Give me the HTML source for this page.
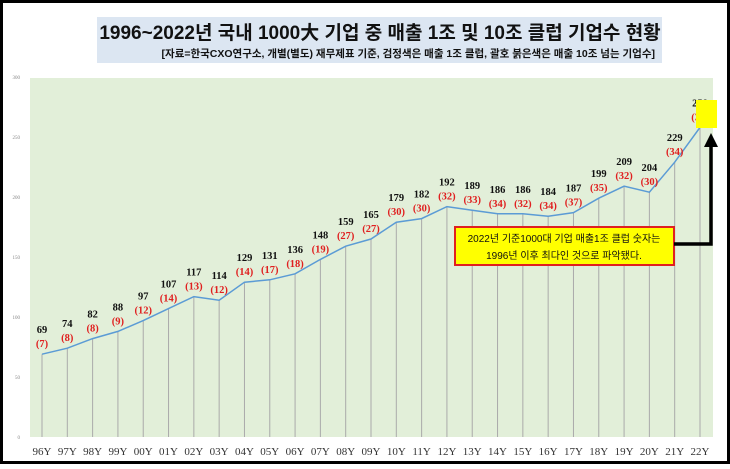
<!DOCTYPE html>
<html><head><meta charset="utf-8"><style>
body{margin:0;background:#fff}
svg text{font-family:"Liberation Serif","Noto Serif CJK SC",serif}
.k{font-family:"Liberation Sans","Noto Sans CJK KR",sans-serif}
</style></head><body>
<svg width="730" height="464" viewBox="0 0 730 464" xmlns="http://www.w3.org/2000/svg">
<rect x="1.5" y="1.5" width="727" height="461" fill="#fff" stroke="#000" stroke-width="3"/>
<rect x="97" y="17" width="565" height="46" fill="#dce6f2"/>
<text class="k" x="380" y="39" text-anchor="middle" font-size="19" font-weight="bold" fill="#111">1996~2022년 국내 1000大 기업 중 매출 1조 및 10조 클럽 기업수 현황</text>
<text class="k" x="655" y="57" text-anchor="end" font-size="10.5" font-weight="bold" fill="#111">[자료=한국CXO연구소, 개별(별도) 재무제표 기준, 검정색은 매출 1조 클럽, 괄호 붉은색은 매출 10조 넘는 기업수]</text>
<rect x="30" y="78" width="683" height="359" fill="#e2efd9"/>
<g id="ya"></g><g id="grid"></g>
<polyline id="line" fill="none" stroke="#5b9bd5" stroke-width="1.5"/>
<g id="labels"></g>
<rect x="696" y="100" width="21" height="28" fill="#ffff00"/>
<rect x="455" y="227" width="219" height="38" fill="#ffff00" stroke="#e02020" stroke-width="2"/>
<text class="k" x="564" y="242" text-anchor="middle" font-size="10" fill="#111">2022년 기준1000대 기업 매출1조 클럽 숫자는</text>
<text class="k" x="564" y="259" text-anchor="middle" font-size="10" fill="#111">1996년 이후 최다인 것으로 파악됐다.</text>
<polyline points="674,244 711,244 711,145" fill="none" stroke="#000" stroke-width="3.5"/>
<polygon points="704,147 718,147 711,133" fill="#000"/>
</svg>
<script>
const categories=["96Y","97Y","98Y","99Y","00Y","01Y","02Y","03Y","04Y","05Y","06Y","07Y","08Y","09Y","10Y","11Y","12Y","13Y","14Y","15Y","16Y","17Y","18Y","19Y","20Y","21Y","22Y"];
const trillionClub=[69,74,82,88,97,107,117,114,129,131,136,148,159,165,179,182,192,189,186,186,184,187,199,209,204,229,258];
const tenTrillionClub=[7,8,8,9,12,14,13,12,14,17,18,19,27,27,30,30,32,33,34,32,34,37,35,32,30,34,38];
const yTicks=[0,50,100,150,200,250,300];
const NS="http://www.w3.org/2000/svg";
const x=i=>42+i*(700-42)/(categories.length-1);
const y=v=>437-v*(437-77)/300;
function mk(t,a,p){const e=document.createElementNS(NS,t);for(const k in a)e.setAttribute(k,a[k]);p.appendChild(e);return e;}
const ya=document.getElementById('ya'),grid=document.getElementById('grid'),lab=document.getElementById('labels');
yTicks.forEach(v=>{const t=mk('text',{x:20,y:y(v)+2,'text-anchor':'end','font-size':5,fill:'#888'},ya);t.textContent=v;

});
const pts=[];
categories.forEach((c,i)=>{
const px=x(i),py=y(trillionClub[i]);pts.push(px+','+py);
const g=mk('line',{x1:px,x2:px,y1:py,y2:437,stroke:'#aaa','stroke-width':1},grid);


const t=mk('text',{x:px,y:455,'text-anchor':'middle','font-size':11,fill:'#333'},lab);t.textContent=c;


const b=mk('text',{x:px,y:py-21,'text-anchor':'middle','font-size':10.5,'font-weight':'bold',fill:'#111'},lab);b.textContent=trillionClub[i];


const r=mk('text',{x:px,y:py-7,'text-anchor':'middle','font-size':10.5,'font-weight':'bold',fill:'#e02020'},lab);r.textContent='('+tenTrillionClub[i]+')';


});
document.getElementById('line').setAttribute('points',pts.join(' '));
</script>
</body></html>
